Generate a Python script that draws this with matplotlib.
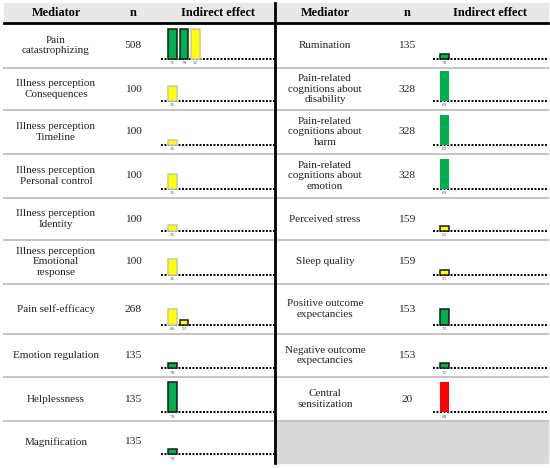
import matplotlib.pyplot as plt

# table content
left_mediators = ["Pain\ncatastrophizing", "Illness perception\nConsequences",
                  "Illness perception\nTimeline", "Illness perception\nPersonal control",
                  "Illness perception\nIdentity", "Illness perception\nEmotional\nresponse",
                  "Pain self-efficacy", "Emotion regulation", "Helplessness", "Magnification"]
left_n = [508, 100, 100, 100, 100, 100, 268, 135, 135, 135]
# per row: effect levels, colours, outline (d = dark, l = light, n = none), quality labels
left_levels = [[6, 6, 6], [3], [1.1], [3.1], [1.3], [3.2], [3.2, 1], [1.1], [6], [1]]
left_colors = [["g", "g", "y"], ["y"], ["y"], ["y"], ["y"], ["y"], ["y", "y"], ["g"], ["g"], ["g"]]
left_edges = [["d", "d", "l"], ["l"], ["l"], ["l"], ["l"], ["l"], ["l", "d"], ["d"], ["d"], ["d"]]
left_labels = [[71, 78, 52], [36], [36], [36], [36], [36], [66, 53], [78], [78], [78]]

right_mediators = ["Rumination", "Pain-related\ncognitions about\ndisability",
                   "Pain-related\ncognitions about\nharm", "Pain-related\ncognitions about\nemotion",
                   "Perceived stress", "Sleep quality", "Positive outcome\nexpectancies",
                   "Negative outcome\nexpectancies", "Central\nsensitization"]
right_n = [135, 328, 328, 328, 159, 159, 153, 153, 20]
right_levels = [[1], [6], [6], [6], [1], [1], [3.2], [1.1], [6]]
right_colors = [["g"], ["g"], ["g"], ["g"], ["y"], ["y"], ["g"], ["g"], ["r"]]
right_edges = [["d"], ["n"], ["n"], ["n"], ["d"], ["d"], ["d"], ["d"], ["n"]]
right_labels = [[78], [69], [69], [69], [53], [53], [72], [72], [68]]

fill = {"g": "#00b050", "y": "#ffff00", "r": "#ff0000"}
edge = {"d": "#1a1a1a", "l": "#c9c9a8", "n": "none"}

W, H = 550, 468
fig = plt.figure(figsize=(5.5, 4.68), dpi=100)
ax = fig.add_axes([0, 0, 1, 1])
ax.set_xlim(0, W)
ax.set_ylim(H, 0)
ax.axis("off")

serif = "Liberation Serif"
row_edges = [23, 68, 110, 154, 198, 240, 284, 334, 377, 421, 463]
px_per_level = 5.0


def draw_half(x0, x1, med_x, n_x, bar_x0, mediators, ns, levels, colors, edges, labels):
    # header text
    ax.text(med_x, 13.5, "Mediator", ha="center", va="center", fontsize=8.8,
            fontweight="bold", family=serif)
    ax.text(n_x, 13.5, "n", ha="center", va="center", fontsize=8.8,
            fontweight="bold", family=serif)
    ax.text(bar_x0 + 50, 13.5, "Indirect effect", ha="center", va="center", fontsize=8.8,
            fontweight="bold", family=serif)
    for i, name in enumerate(mediators):
        top, bot = row_edges[i], row_edges[i + 1]
        mid = (top + bot) / 2
        ax.text(med_x, mid, name, ha="center", va="center", fontsize=8.0,
                family=serif, color="#222222", linespacing=1.15)
        ax.text(n_x, mid, str(ns[i]), ha="center", va="center", fontsize=8.2,
                family=serif, color="#222222")
        base = bot - 9
        ax.plot([bar_x0 - 7, x1], [base, base], color="black", lw=1.4,
                linestyle=(0, (1, 0.8)), solid_capstyle="butt")
        xs = [bar_x0 + 4.5 + 11.5 * k for k in range(len(levels[i]))]
        hs = [-lv * px_per_level for lv in levels[i]]
        ax.bar(xs, hs, bottom=base, width=8.5,
               color=[fill[c] for c in colors[i]],
               edgecolor=[edge[e] for e in edges[i]], linewidth=1.1, zorder=3)
        for x, lab in zip(xs, labels[i]):
            ax.text(x, base + 4.5, str(lab), ha="center", va="center", fontsize=3.6,
                    family=serif, color="#555555")
        if i < len(mediators) - 1 or bot < row_edges[-1] - 1:
            ax.plot([x0, x1], [bot, bot], color="#c4c4c4", lw=1.4)


# header band and rules
ax.fill_between([4, 548], 3, 23, color="#e8e8e8", zorder=0)
ax.fill_between([277, 548], row_edges[-2], row_edges[-1], color="#d9d9d9", zorder=0)

draw_half(4, 275, 56, 133, 168, left_mediators, left_n, left_levels,
          left_colors, left_edges, left_labels)
draw_half(277, 548, 325, 407, 440, right_mediators, right_n, right_levels,
          right_colors, right_edges, right_labels)

ax.plot([4, 548], [23, 23], color="black", lw=2)
ax.plot([275, 275], [3, 463], color="black", lw=2)

fig.savefig("out.png", dpi=100)
